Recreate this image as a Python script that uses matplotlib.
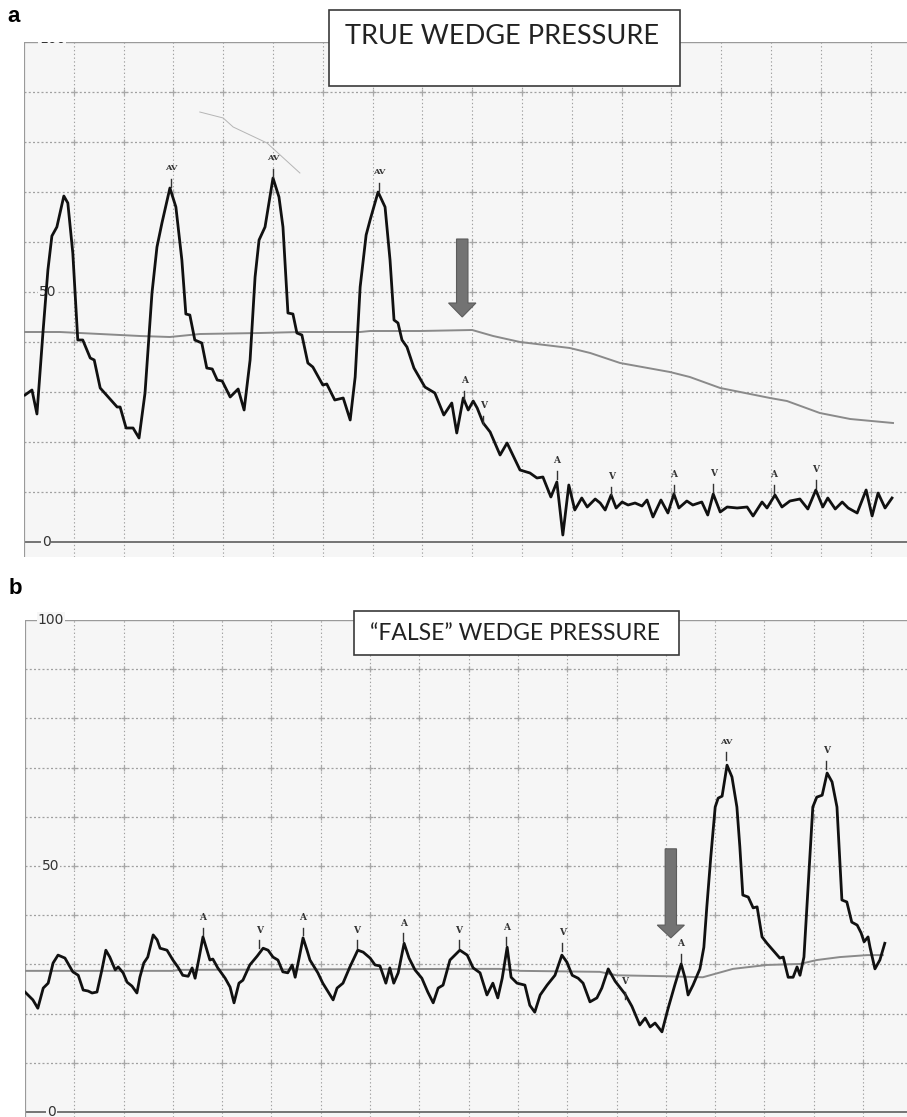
import matplotlib
matplotlib.use("Agg")
import matplotlib.pyplot as plt
import numpy as np
from matplotlib.patches import Rectangle, FancyArrow

# ---- panel a: true wedge pressure (x in large grid boxes, y in mmHg)
a_x = [0.02, 0.16, 0.26, 0.38, 0.48, 0.56, 0.66, 0.80, 0.88, 0.98, 1.08, 1.18, 1.33, 1.41,
       1.53, 1.69, 1.87, 1.93, 2.05, 2.19, 2.31, 2.43, 2.57, 2.67, 2.77, 2.93, 3.05, 3.17,
       3.25, 3.33, 3.43, 3.57, 3.67, 3.78, 3.88, 3.98, 4.14, 4.30, 4.42, 4.54, 4.64, 4.72,
       4.84, 5.00, 5.12, 5.20, 5.30, 5.40, 5.48, 5.58, 5.70, 5.80, 6.00, 6.08, 6.24, 6.41,
       6.55, 6.65, 6.75, 6.87, 6.95, 7.11, 7.25, 7.35, 7.43, 7.51, 7.59, 7.69, 7.83, 8.05,
       8.25, 8.43, 8.59, 8.69, 8.82, 8.92, 9.02, 9.10, 9.22, 9.36, 9.56, 9.70, 9.96, 10.16,
       10.30, 10.42, 10.58, 10.70, 10.82, 10.94, 11.06, 11.20, 11.31, 11.47, 11.57, 11.67,
       11.79, 11.89, 12.01, 12.13, 12.27, 12.41, 12.51, 12.63, 12.79, 12.93, 13.05, 13.15,
       13.31, 13.43, 13.61, 13.73, 13.84, 13.98, 14.12, 14.32, 14.52, 14.64, 14.82, 14.92,
       15.08, 15.22, 15.38, 15.58, 15.74, 15.90, 16.04, 16.14, 16.29, 16.43, 16.55, 16.73,
       16.91, 17.03, 17.15, 17.29, 17.43]
a_y = [29.4, 30.4, 25.6, 41.8, 54.4, 61.2, 63.0, 69.2, 67.8, 57.8, 40.4, 40.4, 36.8, 36.4,
       30.8, 29.0, 27.0, 27.0, 22.8, 22.8, 20.8, 29.8, 49.8, 59.0, 63.8, 70.8, 67.0, 56.4,
       45.6, 45.4, 40.4, 39.8, 34.8, 34.6, 32.4, 32.2, 29.0, 30.6, 26.4, 36.4, 53.0, 60.4,
       63.0, 72.8, 69.0, 63.0, 45.8, 45.6, 41.8, 41.4, 35.8, 35.0, 31.4, 31.6, 28.4, 28.8,
       24.4, 33.0, 51.0, 61.4, 64.4, 70.0, 67.0, 56.4, 44.4, 43.8, 40.4, 39.0, 34.8, 31.0,
       29.8, 25.4, 27.8, 21.8, 28.8, 26.4, 28.2, 26.8, 23.8, 22.0, 17.4, 19.8, 14.4, 13.8,
       12.8, 13.0, 9.0, 12.0, 1.4, 11.4, 6.4, 8.8, 7.0, 8.6, 7.8, 6.4,
       9.4, 6.8, 8.0, 7.4, 7.8, 7.2, 8.4, 5.0, 8.4, 5.8, 9.6, 6.8,
       8.2, 7.4, 8.0, 5.4, 9.6, 6.0, 7.0, 6.8, 7.0, 5.2, 8.0, 6.8,
       9.4, 7.0, 8.2, 8.6, 6.6, 10.4, 7.0, 8.8, 6.6, 8.0, 6.8, 5.8,
       10.4, 5.2, 9.8, 6.8, 8.8]
a_gray_x = [0, 0.72, 2.33, 2.93, 3.53, 4.74, 5.54, 6.75, 6.95, 7.95, 9.0, 9.42, 9.96, 10.96,
            11.37, 11.97, 12.97, 13.37, 13.98, 14.98, 15.32, 15.98, 16.59, 17.45]
a_gray_y = [42.0, 42.0, 41.2, 41.0, 41.6, 41.8, 42.0, 42.0, 42.2, 42.2, 42.4, 41.2, 40.0, 38.8,
            37.8, 35.8, 34.0, 33.0, 30.8, 28.8, 28.2, 25.8, 24.6, 23.8]
a_mark_x = [2.95, 5.00, 7.13, 8.84, 9.22, 10.70, 11.79, 13.05, 13.84, 15.06, 15.90]
a_mark_y = [74.8, 76.8, 74.0, 32.4, 27.4, 16.4, 13.2, 13.6, 13.8, 13.6, 14.6]
a_mark_txt = ["AV", "AV", "AV", "A", "V", "A", "V", "A", "V", "A", "V"]
a_hair_x = [3.53, 4.0, 4.2, 4.88, 5.54]
a_hair_y = [86.0, 84.8, 83.0, 79.8, 73.8]

# ---- panel b: "false" wedge pressure
b_x = [0, 0.16, 0.26, 0.37, 0.47, 0.57, 0.67, 0.81, 0.97, 1.08, 1.18, 1.28, 1.36, 1.46,
       1.56, 1.64, 1.72, 1.83, 1.89, 1.99, 2.07, 2.17, 2.27, 2.33, 2.41, 2.49, 2.60, 2.68,
       2.74, 2.88, 3.00, 3.10, 3.20, 3.31, 3.39, 3.45, 3.53, 3.61, 3.69, 3.75, 3.81, 3.91,
       4.06, 4.16, 4.24, 4.34, 4.42, 4.56, 4.71, 4.83, 4.93, 5.03, 5.13, 5.23, 5.33, 5.42,
       5.48, 5.56, 5.64, 5.72, 5.78, 5.94, 6.04, 6.25, 6.33, 6.45, 6.59, 6.75, 6.86, 7.00,
       7.10, 7.20, 7.32, 7.40, 7.48, 7.57, 7.69, 7.79, 7.91, 8.05, 8.17, 8.28, 8.38, 8.48,
       8.62, 8.82, 8.97, 9.09, 9.23, 9.37, 9.49, 9.59, 9.68, 9.78, 9.86, 9.98, 10.14, 10.24,
       10.34, 10.45, 10.59, 10.75, 10.89, 10.99, 11.10, 11.22, 11.32, 11.46, 11.60, 11.70,
       11.83, 11.97, 12.17, 12.31, 12.47, 12.58, 12.68, 12.78, 12.92, 13.04, 13.18, 13.31,
       13.39, 13.45, 13.55, 13.69, 13.77, 13.83, 13.91, 14.00, 14.06, 14.14, 14.24, 14.34,
       14.44, 14.50, 14.56, 14.67, 14.77, 14.85, 14.95, 15.05, 15.17, 15.31, 15.38, 15.48,
       15.58, 15.66, 15.72, 15.80, 15.88, 15.98, 16.06, 16.17, 16.27, 16.37, 16.47, 16.57,
       16.67, 16.77, 16.88, 16.96, 17.02, 17.10, 17.14, 17.24, 17.34, 17.44]
b_y = [24.4, 22.8, 21.1, 25.2, 26.2, 30.3, 31.9, 31.3, 28.5, 27.8, 24.8, 24.6, 24.2, 24.4,
       28.9, 32.9, 31.5, 28.9, 29.5, 28.3, 26.4, 25.6, 24.2, 27.4, 30.3, 31.5, 36.0, 35.0,
       33.3, 32.9, 30.9, 29.5, 27.8, 27.6, 29.3, 27.2, 31.3, 35.6, 32.9, 30.9, 31.1, 29.3,
       27.2, 25.4, 22.2, 26.2, 26.8, 29.9, 31.7, 33.3, 32.9, 31.5, 30.9, 28.5, 28.3, 29.9,
       27.4, 31.3, 35.4, 32.9, 30.9, 28.3, 26.2, 22.8, 25.2, 26.2, 29.5, 32.9, 32.5, 31.3,
       29.9, 29.7, 26.2, 29.3, 26.2, 28.3, 34.3, 31.3, 28.9, 27.2, 24.4, 22.2, 25.2, 25.8,
       30.9, 32.9, 31.9, 29.3, 28.3, 23.8, 26.2, 23.2, 27.2, 33.5, 27.4, 26.2, 25.8, 21.7,
       20.3, 23.8, 25.8, 27.8, 31.9, 30.5, 27.8, 27.2, 26.2, 22.4, 23.2, 25.2,
       29.1, 26.6, 24.0, 21.5, 17.7, 19.1, 17.3, 18.1, 16.3, 20.9, 25.8, 30.1,
       27.2, 23.8, 25.8, 29.1, 33.5, 41.7, 51.8, 62.0, 63.8, 64.2, 70.5, 68.1,
       62.0, 53.9, 44.1, 43.7, 41.5, 41.7, 35.6, 34.3, 32.9, 31.3, 31.5, 27.4,
       27.4, 29.5, 27.8, 31.5, 45.1, 62.0, 64.0, 64.4, 68.9, 67.1, 62.0, 43.1,
       42.7, 38.6, 38.0, 36.4, 34.6, 35.6, 33.5, 29.1, 30.9, 34.3]
b_gray_x = [0, 3.0, 3.14, 8.82, 9.63, 10.04, 11.66, 12.0, 13.02, 13.75, 14.36, 15.05, 15.72,
            16.06, 16.53, 17.08, 17.40]
b_gray_y = [28.7, 28.7, 28.9, 29.1, 29.1, 28.7, 28.5, 27.8, 27.6, 27.4, 29.1, 29.9, 30.1,
            30.9, 31.5, 31.9, 31.9]
b_mark_x = [3.61, 4.75, 5.64, 6.73, 7.67, 8.80, 9.76, 10.90, 12.17, 13.30, 14.22, 16.25]
b_mark_y = [39.6, 37.0, 39.6, 37.0, 38.4, 37.0, 37.6, 36.4, 26.6, 34.3, 75.2, 73.4]
b_mark_txt = ["A", "V", "A", "V", "A", "V", "A", "V", "V", "A", "AV", "V"]

scale_labels = ["100", "50", "0"]
scale_values = [100, 50, 0]


def draw_panel(ax, xmax, ymin, tx, ty, gx, gy, mx, my, mt, lab_x, top_label_y, clip_top, arrow):
    ax.set_xlim(0, xmax)
    ax.set_ylim(ymin, 100)
    ax.set_facecolor("#f6f6f6")
    for s in ax.spines.values():
        s.set_visible(False)
    ax.set_xticks([])
    ax.set_yticks([])

    # chart paper grid
    for xv in range(1, int(xmax) + 1):
        ax.axvline(xv, color="#a0a0a0", lw=0.8, ls=(0, (1.2, 2.2)), zorder=1)
    for yv in range(10, 100, 10):
        ax.axhline(yv, color="#a0a0a0", lw=0.9, ls=(0, (1.6, 1.8)), zorder=1)
    gxx, gyy = np.meshgrid(np.arange(1, int(xmax) + 1), np.arange(10, 100, 10))
    ax.plot(gxx.ravel(), gyy.ravel(), "+", ms=5, mew=0.9, color="#a8a8a8", zorder=1)
    ax.axhline(100, color="#9a9a9a", lw=1.0, zorder=2)
    ax.axhline(0, color="#6a6a6a", lw=1.3, zorder=2)
    ax.axvline(0, color="#9a9a9a", lw=1.6, zorder=2)

    for lab, val, lx in zip(scale_labels, scale_values, lab_x):
        yy = top_label_y if val == 100 else val
        ax.text(lx, yy, lab, fontsize=10, color="#333333", ha="left", va="center",
                clip_on=(val == 100 and clip_top), zorder=3,
                bbox=dict(facecolor="#f6f6f6", edgecolor="none", pad=0.5))

    ax.plot(gx, gy, color="#8a8a8a", lw=1.4, zorder=4)
    ax.plot(tx, ty, color="#111111", lw=2.0, solid_joinstyle="round", zorder=5)

    for x, y, t in zip(mx, my, mt):
        ax.text(x, y, t, fontsize=6 if t == "AV" else 6.5, family="DejaVu Serif",
                weight="bold", color="#333333", ha="center", va="center", zorder=6)
        ax.plot([x, x], [y - 2.1, y - 3.7], color="#333333", lw=1.0, zorder=6)

    ax0, ay0, ay1, hl = arrow
    ax.add_patch(FancyArrow(ax0, ay0, 0, ay1 - ay0, width=0.23, head_width=0.55,
                            head_length=hl, length_includes_head=True,
                            facecolor="#737373", edgecolor="#5c5c5c", lw=0.8, zorder=7))


fig = plt.figure(figsize=(9.07, 11.17), dpi=100)

ax_a = fig.add_axes([24 / 907, 1 - 557 / 1117, 883 / 907, 515 / 1117])
draw_panel(ax_a, 883 / 49.8, -3, a_x, a_y, a_gray_x, a_gray_y, a_mark_x, a_mark_y,
           a_mark_txt, [0.3, 0.3, 0.36], 100.6, True, (8.8, 60.6, 45.0, 2.8))
ax_a.plot(a_hair_x, a_hair_y, color="#b5b5b5", lw=0.7, zorder=3)

ax_b = fig.add_axes([25 / 907, 0, 882 / 907, 497 / 1117])
draw_panel(ax_b, 882 / 49.3, -1, b_x, b_y, b_gray_x, b_gray_y, b_mark_x, b_mark_y,
           b_mark_txt, [0.26, 0.34, 0.45], 100.0, False, (13.1, 53.5, 35.4, 2.6))

# title boxes
fig.patches.append(Rectangle((329 / 907, 1 - 86 / 1117), 351 / 907, 76 / 1117,
                             transform=fig.transFigure, facecolor="white",
                             edgecolor="#3a3a3a", lw=1.2, zorder=10))
fig.text(345 / 907, 1 - 37 / 1117, "TRUE WEDGE PRESSURE", fontsize=19.5, family="Lato",
         color="#222222", ha="left", va="center", zorder=11)
fig.patches.append(Rectangle((354 / 907, 1 - 655 / 1117), 325 / 907, 44 / 1117,
                             transform=fig.transFigure, facecolor="white",
                             edgecolor="#3a3a3a", lw=1.2, zorder=10))
fig.text(370 / 907, 1 - 633 / 1117, "\u201cFALSE\u201d WEDGE PRESSURE", fontsize=16.5,
         family="Lato", color="#222222", ha="left", va="center", zorder=11)

fig.text(14 / 907, 1 - 16 / 1117, "a", fontsize=16, weight="bold", family="Liberation Sans",
         ha="center", va="center")
fig.text(15 / 907, 1 - 588 / 1117, "b", fontsize=16, weight="bold", family="Liberation Sans",
         ha="center", va="center")

fig.savefig("out.png", dpi=100)
